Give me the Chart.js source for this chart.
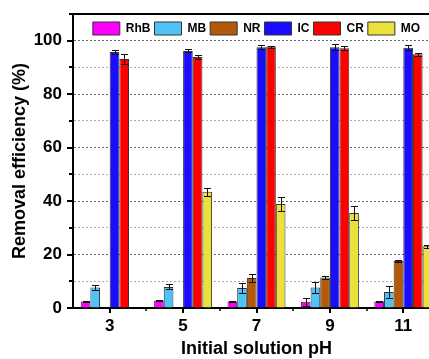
<!DOCTYPE html>
<html>
<head>
<meta charset="utf-8">
<script src="https://cdn.jsdelivr.net/npm/chart.js@4"></script>
<style>
    html, body { margin: 0; padding: 0; overflow: hidden; background: #fff; }
    #wrap { width: 445px; height: 359px; }
</style>
</head>
<body>
<div id="wrap"><canvas id="removalChart" width="445" height="359"></canvas></div>
<script>
// 初始溶液 pH
const phLabels = ['3', '5', '7', '9', '11'];

// 染料名称
const dyeNames = ['RhB', 'MB', 'NR', 'IC', 'CR', 'MO'];

// 去除率 (%)，null 表示无柱
const rhbValues = [2.4, 2.8, 2.4, 2.3, 2.4];
const mbValues  = [7.7, 7.9, 7.5, 7.7, 6.0];
const nrValues  = [null, null, 11.2, 11.4, 17.6];
const icValues  = [95.8, 96.2, 97.6, 97.6, 97.4];
const crValues  = [93.2, 93.9, 97.8, 97.2, 94.9];
const moValues  = [null, 43.5, 38.9, 35.5, 23.1];

// 误差
const rhbErrors = [0.3, 0.3, 0.3, 1.4, 0.2];
const mbErrors  = [0.8, 0.9, 2.0, 2.2, 2.2];
const nrErrors  = [null, null, 1.5, 0.5, 0.5];
const icErrors  = [0.8, 0.6, 0.8, 1.2, 1.0];
const crErrors  = [2.0, 0.6, 0.4, 0.7, 0.5];
const moErrors  = [null, 1.5, 2.5, 2.5, 0.6];

// y 轴刻度标签
const yTickLabels = [0, 20, 40, 60, 80, 100];

const allValues = [rhbValues, mbValues, nrValues, icValues, crValues, moValues];
const allErrors = [rhbErrors, mbErrors, nrErrors, icErrors, crErrors, moErrors];
const dyeColors = ['#ff00ff', '#4fc3f7', '#b35a0a', '#1a0dff', '#ff0000', '#ebe13a'];

const FONT = 'Arial, "Liberation Sans", sans-serif';

// 误差棒
const errorBars = {
    id: 'errorBars',
    afterDatasetsDraw(chart) {
        const ctx = chart.ctx;
        const y = chart.scales.y;
        ctx.save();
        ctx.strokeStyle = '#111';
        ctx.lineWidth = 1;
        chart.data.datasets.forEach((ds, i) => {
            const meta = chart.getDatasetMeta(i);
            meta.data.forEach((bar, j) => {
                const v = ds.data[j];
                const e = ds.errors[j];
                if (v == null || !e) return;
                const x = Math.round(bar.x) + 0.5;
                const top = Math.round(y.getPixelForValue(v + e)) + 0.5;
                const bot = Math.round(y.getPixelForValue(v - e)) + 0.5;
                ctx.beginPath();
                ctx.moveTo(x, top); ctx.lineTo(x, bot);
                ctx.moveTo(x - 3.5, top); ctx.lineTo(x + 3.5, top);
                ctx.moveTo(x - 3.5, bot); ctx.lineTo(x + 3.5, bot);
                ctx.stroke();
            });
        });
        ctx.restore();
    }
};

// 边框和刻度线
const axisMarks = {
    id: 'axisMarks',
    afterDraw(chart) {
        const ctx = chart.ctx;
        const a = chart.chartArea;
        const x = chart.scales.x;
        const y = chart.scales.y;
        ctx.save();
        ctx.strokeStyle = '#000';
        ctx.lineWidth = 2;
        ctx.beginPath();
        ctx.moveTo(a.left - 1, a.top);
        ctx.lineTo(a.right, a.top);
        ctx.lineTo(a.right, a.bottom);
        ctx.stroke();

        ctx.beginPath();
        y.ticks.forEach(t => {
            const py = Math.round(y.getPixelForValue(t.value));
            const len = t.value % 20 === 0 ? 5 : 3;
            ctx.moveTo(a.left - 1 - len, py);
            ctx.lineTo(a.left - 1, py);
        });
        for (let i = 0; i < phLabels.length; i++) {
            const px = Math.round(x.getPixelForValue(i));
            ctx.moveTo(px, a.bottom);
            ctx.lineTo(px, a.bottom + 5);
        }
        ctx.stroke();

        ctx.lineWidth = 1.5;
        ctx.beginPath();
        for (let i = 0; i < phLabels.length - 1; i++) {
            const px = Math.round((x.getPixelForValue(i) + x.getPixelForValue(i + 1)) / 2);
            ctx.moveTo(px, a.bottom);
            ctx.lineTo(px, a.bottom + 3);
        }
        ctx.stroke();
        ctx.restore();
    }
};

// 图例放进绘图区内：不占布局高度，也不裁剪
const legendInside = {
    id: 'legendInside',
    beforeInit(chart) {
        const legend = chart.legend;
        const fit = legend.fit;
        legend.fit = function () {
            fit.call(this);
            this.height = 0;
        };
        legend.draw = function () {
            if (this.options.display) this._draw();
        };
    }
};

const ctx = document.getElementById('removalChart').getContext('2d');

new Chart(ctx, {
    type: 'bar',
    data: {
        labels: phLabels,
        datasets: dyeNames.map((name, i) => ({
            label: name,
            data: allValues[i],
            errors: allErrors[i],
            backgroundColor: dyeColors[i],
            borderColor: '#333',
            borderWidth: 1,
            barPercentage: 1,
            categoryPercentage: 0.79
        }))
    },
    options: {
        responsive: false,
        animation: false,
        layout: { padding: { top: 14, right: 5, left: 0, bottom: 0 } },
        scales: {
            x: {
                grid: { drawOnChartArea: false, drawTicks: false },
                border: { color: '#000', width: 2 },
                ticks: {
                    color: '#000',
                    font: { family: FONT, size: 17, weight: 'bold' },
                    padding: 8,
                    maxRotation: 0
                },
                title: {
                    display: true,
                    text: 'Initial solution pH',
                    color: '#000',
                    font: { family: FONT, size: 18, weight: 'bold', lineHeight: 1.1 },
                    padding: 0
                },
                afterFit: s => {
                    s.height = 51;
                    s.paddingLeft = 0;
                    s.paddingRight = 0;
                }
            },
            y: {
                min: 0,
                max: 110,
                grid: {
                    drawTicks: false,
                    lineWidth: 1,
                    color: c => (c.tick && c.tick.value % 20 === 0) ? '#666' : '#aaa'
                },
                border: { color: '#000', width: 2, dash: [2, 2] },
                ticks: {
                    stepSize: 10,
                    color: '#000',
                    font: { family: FONT, size: 17, weight: 'bold' },
                    padding: 11,
                    callback: v => yTickLabels.includes(v) ? v : ''
                },
                title: {
                    display: true,
                    text: 'Removal efficiency (%)',
                    color: '#000',
                    font: { family: FONT, size: 18, weight: 'bold', lineHeight: 1.1 },
                    padding: { top: 10, bottom: 0 }
                },
                afterFit: s => {
                    s.width = 73;
                    s.paddingTop = 0;
                    s.paddingBottom = 0;
                }
            }
        },
        plugins: {
            legend: {
                position: 'top',
                fullSize: false,
                align: 'center',
                title: {
                    display: true,
                    text: '',
                    font: { size: 4, lineHeight: 1 },
                    padding: 0
                },
                labels: {
                    boxWidth: 27,
                    boxHeight: 13,
                    padding: 4,
                    color: '#000',
                    font: { family: FONT, size: 12, weight: 'bold' }
                }
            },
            tooltip: { enabled: false }
        }
    },
    plugins: [legendInside, errorBars, axisMarks]
});
</script>
</body>
</html>
